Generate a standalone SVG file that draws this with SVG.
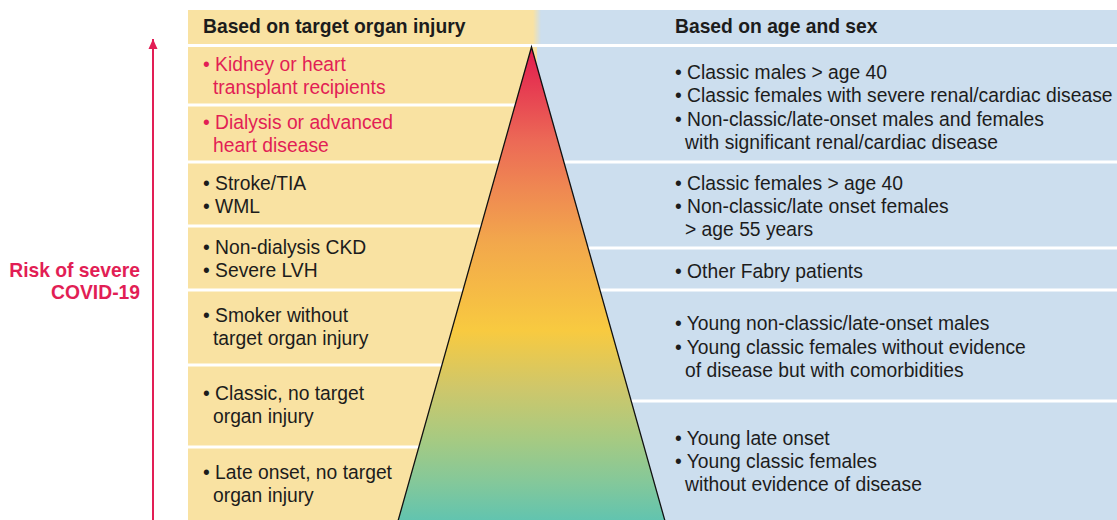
<svg xmlns="http://www.w3.org/2000/svg" width="1117" height="520" viewBox="0 0 1117 520">
<defs>
<linearGradient id="pyr" x1="0" y1="47" x2="0" y2="520" gradientUnits="userSpaceOnUse">
<stop offset="0" stop-color="#E21A4E"/>
<stop offset="0.2" stop-color="#EC6A56"/>
<stop offset="0.3" stop-color="#EF8852"/>
<stop offset="0.41" stop-color="#F2A74C"/>
<stop offset="0.6" stop-color="#F8CA40"/>
<stop offset="0.72" stop-color="#CFC76A"/>
<stop offset="0.83" stop-color="#A6CA82"/>
<stop offset="0.92" stop-color="#84C89A"/>
<stop offset="1" stop-color="#62C4AF"/>
</linearGradient>
<linearGradient id="hdr" x1="533" y1="0" x2="541" y2="0" gradientUnits="userSpaceOnUse">
<stop offset="0" stop-color="#F9E2A2"/>
<stop offset="1" stop-color="#CCDEEE"/>
</linearGradient>
<marker id="ah" viewBox="0 0 10 10" refX="10" refY="5" markerWidth="10" markerHeight="10" markerUnits="userSpaceOnUse" orient="auto">
<polygon points="0,0.5 10,5 0,9.5" fill="#E21E55"/>
</marker>
<style>
.t{font-family:"Liberation Sans",Arial,sans-serif;font-size:19.3px;fill:#1C1C1C}
.r{fill:#E21E55}
.b{font-weight:bold}
.y{fill:#F9E2A2}
.bl{fill:#CCDEEE}
.sep{stroke:#FFFFFF;stroke-width:3}
</style>
</defs>
<rect width="1117" height="520" fill="#FFFFFF"/>
<g id="backgrounds">
<rect class="y" x="188" y="10" width="349" height="510"/>
<rect class="bl" x="537" y="10" width="580" height="510"/>
<rect x="533" y="10" width="8" height="35" fill="url(#hdr)"/>
</g>
<g id="separators">
<line class="sep" x1="188" y1="45.5" x2="1117" y2="45.5"/>
<line class="sep" x1="188" y1="105" x2="537" y2="105"/>
<line class="sep" x1="188" y1="162" x2="1117" y2="162"/>
<line class="sep" x1="188" y1="226" x2="537" y2="226"/>
<line class="sep" x1="537" y1="248" x2="1117" y2="248"/>
<line class="sep" x1="188" y1="290" x2="1117" y2="290"/>
<line class="sep" x1="188" y1="365" x2="537" y2="365"/>
<line class="sep" x1="537" y1="401" x2="1117" y2="401"/>
<line class="sep" x1="188" y1="447" x2="537" y2="447"/>
</g>
<g id="pyramid">
<polygon points="531.5,47 665,521 398,521" fill="url(#pyr)" stroke="#111111" stroke-width="1.3" stroke-linejoin="miter"/>
</g>
<g id="connectors">
<line x1="153" y1="520" x2="153" y2="39" stroke="#E21E55" stroke-width="2" marker-end="url(#ah)"/>
</g>
<g id="axis-label">
<text class="t b r" text-anchor="end" x="140" y="276.5">Risk of severe</text>
<text class="t b r" text-anchor="end" x="140" y="299">COVID-19</text>
</g>
<g id="header-left"><text class="t b" x="203" y="33">Based on target organ injury</text></g>
<g id="header-right"><text class="t b" x="675" y="33">Based on age and sex</text></g>
<g id="left-1"><text class="t r" x="203" y="71">• Kidney or heart</text><text class="t r" x="213" y="94">transplant recipients</text></g>
<g id="left-2"><text class="t r" x="203" y="129">• Dialysis or advanced</text><text class="t r" x="213" y="152">heart disease</text></g>
<g id="left-3"><text class="t" x="203" y="190">• Stroke/TIA</text><text class="t" x="203" y="213">• WML</text></g>
<g id="left-4"><text class="t" x="203" y="254">• Non-dialysis CKD</text><text class="t" x="203" y="277">• Severe LVH</text></g>
<g id="left-5"><text class="t" x="203" y="322">• Smoker without</text><text class="t" x="213" y="345">target organ injury</text></g>
<g id="left-6"><text class="t" x="203" y="399.5">• Classic, no target</text><text class="t" x="213" y="423">organ injury</text></g>
<g id="left-7"><text class="t" x="203" y="479">• Late onset, no target</text><text class="t" x="213" y="502">organ injury</text></g>
<g id="right-1"><text class="t" x="675" y="79">• Classic males &gt; age 40</text><text class="t" x="675" y="102">• Classic females with severe renal/cardiac disease</text><text class="t" x="675" y="125.5">• Non-classic/late-onset males and females</text><text class="t" x="685" y="148.5">with significant renal/cardiac disease</text></g>
<g id="right-2"><text class="t" x="675" y="190">• Classic females &gt; age 40</text><text class="t" x="675" y="213">• Non-classic/late onset females</text><text class="t" x="685" y="236">&gt; age 55 years</text></g>
<g id="right-3"><text class="t" x="675" y="278">• Other Fabry patients</text></g>
<g id="right-4"><text class="t" x="675" y="330">• Young non-classic/late-onset males</text><text class="t" x="675" y="353.5">• Young classic females without evidence</text><text class="t" x="685" y="376.5">of disease but with comorbidities</text></g>
<g id="right-5"><text class="t" x="675" y="444.5">• Young late onset</text><text class="t" x="675" y="468">• Young classic females</text><text class="t" x="685" y="491">without evidence of disease</text></g>
</svg>
